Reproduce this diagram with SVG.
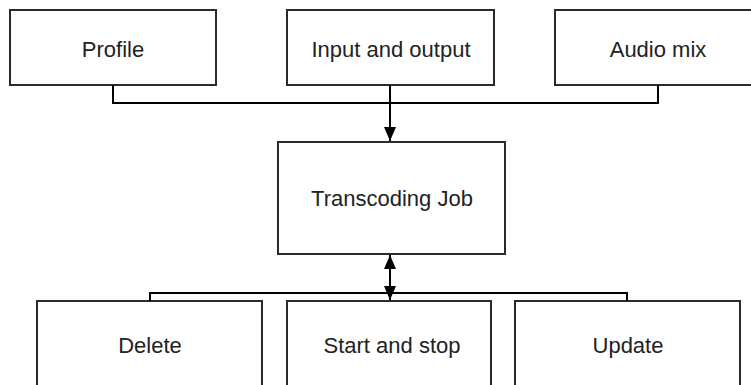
<svg xmlns="http://www.w3.org/2000/svg" width="751" height="385" viewBox="0 0 751 385">
  <style>
    .box { fill: #ffffff; stroke: #2b2b2b; stroke-width: 2; }
    .lbl { font-family: "Liberation Sans", Arial, sans-serif; font-size: 22px; fill: #222222; text-anchor: middle; }
    .wire { fill: none; stroke: #000000; stroke-width: 2; }
  </style>
  <defs>
    <marker id="ah" markerUnits="userSpaceOnUse" markerWidth="12" markerHeight="14" viewBox="0 0 12 14" refX="6" refY="14" orient="auto-start-reverse">
      <path d="M0,0 L12,0 L6,14 Z" fill="#000000" transform="rotate(0)"/>
    </marker>
    <marker id="ahv" markerUnits="userSpaceOnUse" markerWidth="14" markerHeight="12" viewBox="0 0 14 12" refX="14" refY="6" orient="auto-start-reverse">
      <path d="M0,0 L14,6 L0,12 Z" fill="#000000"/>
    </marker>
  </defs>
  <rect width="751" height="385" fill="#ffffff"/>

  <g id="profile">
    <rect class="box" x="10" y="10" width="206" height="75"/>
    <text class="lbl" x="113" y="57">Profile</text>
  </g>
  <g id="input-output">
    <rect class="box" x="287" y="10" width="207" height="75"/>
    <text class="lbl" x="391" y="57">Input and output</text>
  </g>
  <g id="audio-mix">
    <rect class="box" x="555" y="10" width="210" height="75"/>
    <text class="lbl" x="658" y="57">Audio mix</text>
  </g>
  <g id="transcoding-job">
    <rect class="box" x="278" y="142" width="227" height="112"/>
    <text class="lbl" x="392" y="206">Transcoding Job</text>
  </g>
  <g id="delete">
    <rect class="box" x="37" y="301" width="225" height="100"/>
    <text class="lbl" x="150" y="353">Delete</text>
  </g>
  <g id="start-stop">
    <rect class="box" x="287" y="301" width="204" height="100"/>
    <text class="lbl" x="392" y="353">Start and stop</text>
  </g>
  <g id="update">
    <rect class="box" x="515" y="301" width="225" height="100"/>
    <text class="lbl" x="628" y="353">Update</text>
  </g>

  <g id="connectors">
    <polyline class="wire" points="113,85 113,103 658,103 658,85"/>
    <line class="wire" x1="390" y1="85" x2="390" y2="141" marker-end="url(#ahv)"/>
    <polyline class="wire" points="150,301 150,293 627,293 627,301"/>
    <line class="wire" x1="390" y1="255" x2="390" y2="300" marker-start="url(#ahv)" marker-end="url(#ahv)"/>
  </g>
</svg>
